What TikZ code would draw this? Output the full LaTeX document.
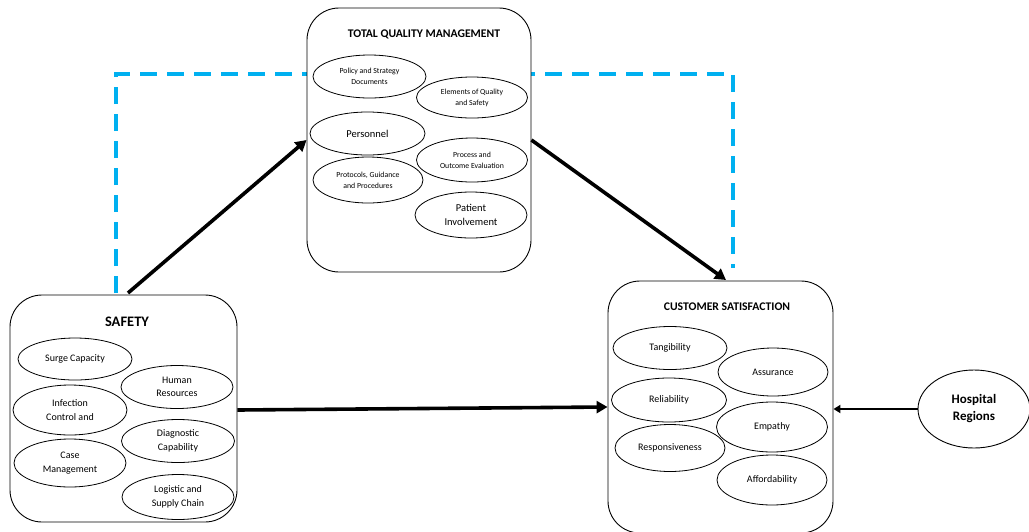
\documentclass[tikz,border=0pt]{standalone}
\usepackage{fontspec}
\setmainfont{Carlito}
\usetikzlibrary{shapes.geometric,arrows.meta}
\begin{document}
\begin{tikzpicture}[x=1pt,y=-1pt,
  panel/.style={draw,fill=white,line width=0.9pt,rounded corners=32pt},
  oval/.style={draw,fill=white,ellipse,line width=0.8pt,inner sep=0pt,align=center,font=\fontsize{10}{13.5}\selectfont},
  smalloval/.style={oval,font=\fontsize{7.8}{11}\selectfont},
  bigoval/.style={oval,font=\fontsize{10.5}{14}\selectfont},
  ttl/.style={font=\bfseries\fontsize{11.7}{13}\selectfont},
  conn/.style={line width=3.6pt,-{Triangle[length=11pt,width=12pt]}},
  thinconn/.style={line width=2pt,-{Triangle[length=7pt,width=8pt]}},
  dashbox/.style={draw={rgb,255:red,0;green,176;blue,240},line width=3.8pt,dash pattern=on 17pt off 10pt}
]
\useasboundingbox (0,0) rectangle (1029,531);
% dashed blue frame
\coordinate (dl) at (116,293);
\coordinate (dtl) at (116,74);
\coordinate (dtr) at (733,74);
\coordinate (dr) at (733,268);
\draw[dashbox] (dl) -- (dtl) -- (dtr) -- (dr);

% panels
\node[panel,minimum width=224pt,minimum height=264pt] (tqm) at (419,140) {};
\node[panel,minimum width=227pt,minimum height=227pt] (saf) at (123.5,408.5) {};
\node[panel,minimum width=225pt,minimum height=252pt] (cs) at (720.5,407) {};

\node[ttl] (tqmt) at (424,34) {TOTAL QUALITY MANAGEMENT};
\node[ttl,font=\bfseries\fontsize{14.5}{16}\selectfont] (saft) at (127,322) {SAFETY};
\node[ttl] (cst) at (727,307) {CUSTOMER SATISFACTION};

% TQM ovals
\node[smalloval,minimum width=113pt,minimum height=43pt] (p1) at (369.5,76.5) {Policy and Strategy\\Documents};
\node[smalloval,minimum width=111pt,minimum height=41pt] (p2) at (472,97.5) {Elements of Quality\\and Safety};
\node[bigoval,minimum width=115pt,minimum height=43pt] (p3) at (367.5,133.5) {Personnel};
\node[smalloval,minimum width=111pt,minimum height=44pt] (p4) at (472,160) {Process and\\Outcome Evaluation};
\node[smalloval,minimum width=110pt,minimum height=46pt] (p5) at (368,180) {Protocols, Guidance\\and Procedures};
\node[bigoval,minimum width=112pt,minimum height=46pt] (p6) at (471,215) {Patient\\Involvement};

% Safety ovals
\node[oval,minimum width=114pt,minimum height=42pt] (s1) at (75,359) {Surge Capacity};
\node[oval,minimum width=112pt,minimum height=43pt] (s2) at (177,387) {Human\\Resources};
\node[oval,minimum width=114pt,minimum height=50pt] (s3) at (70,410) {Infection\\Control and};
\node[oval,minimum width=113pt,minimum height=43pt] (s4) at (178,441) {Diagnostic\\Capability};
\node[oval,minimum width=112pt,minimum height=48pt] (s5) at (70,463) {Case\\Management};
\node[oval,minimum width=112pt,minimum height=45pt] (s6) at (178,497) {Logistic and\\Supply Chain};

% CS ovals
\node[oval,minimum width=114pt,minimum height=43pt] (c1) at (670,348) {Tangibility};
\node[oval,minimum width=110pt,minimum height=48pt] (c2) at (773,372) {Assurance};
\node[oval,minimum width=115pt,minimum height=44pt] (c3) at (669,400) {Reliability};
\node[oval,minimum width=111pt,minimum height=50pt] (c4) at (772,427) {Empathy};
\node[oval,minimum width=110pt,minimum height=47pt] (c5) at (670,448) {Responsiveness};
\node[oval,minimum width=110pt,minimum height=50pt] (c6) at (772,480) {Affordability};

% Hospital regions
\node[draw,fill=white,ellipse,line width=0.9pt,inner sep=0pt,align=center,minimum width=112pt,minimum height=78pt,font=\bfseries\fontsize{13}{17}\selectfont] (hr) at (974,409) {Hospital\\Regions};

% connectors
\coordinate (a1) at (128,293);
\draw[conn] (a1) -- (tqm.west |- 0,140);
\draw[conn] (tqm.east |- 0,140) -- (726,280);
\draw[conn] (saf.east |- 0,410) -- (cs.west |- 0,407);
\draw[thinconn] (hr.west) -- (cs.east |- hr.west);
\end{tikzpicture}
\end{document}
